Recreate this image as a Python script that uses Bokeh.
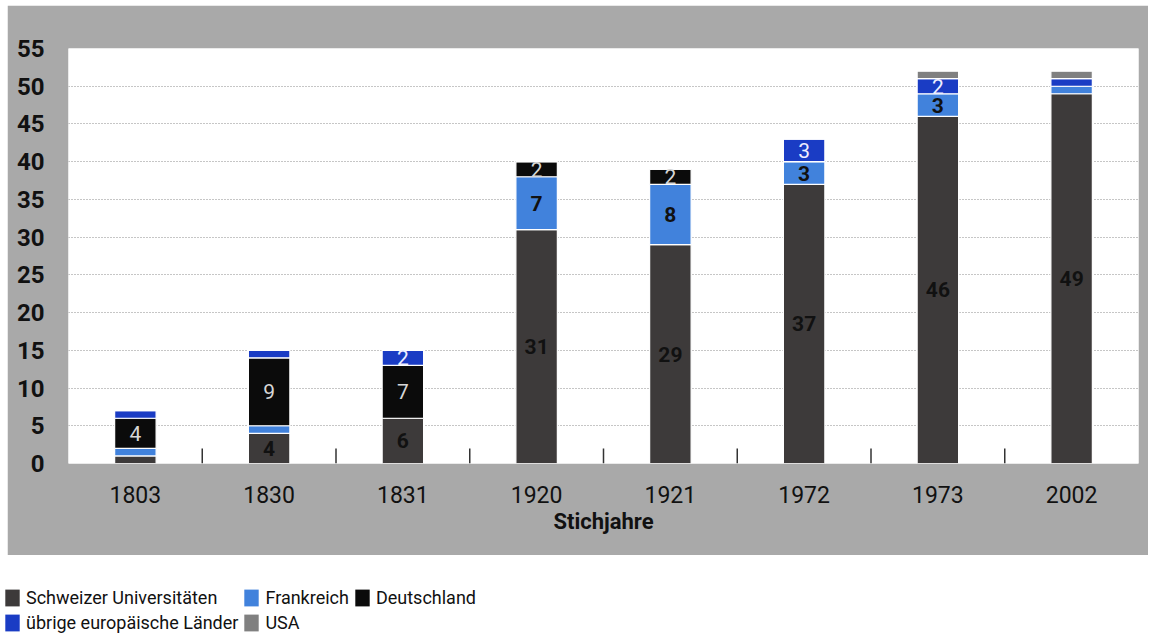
from bokeh.plotting import figure
from bokeh.models import ColumnDataSource, FactorRange, Range1d, FixedTicker, Legend, LegendItem
from bokeh.layouts import column
from bokeh.core.properties import value
from bokeh.embed import file_html
from bokeh.resources import INLINE

# ---- data ----
years = ["1803", "1830", "1831", "1920", "1921", "1972", "1973", "2002"]
schweiz = [1, 4, 6, 31, 29, 37, 46, 49]
frankreich = [1, 1, 0, 7, 8, 3, 3, 1]
deutschland = [4, 9, 7, 2, 2, 0, 0, 0]
uebrige = [1, 1, 2, 0, 0, 3, 2, 1]
usa = [0, 0, 0, 0, 0, 0, 1, 1]
series_names = ["Schweizer Universitäten", "Frankreich", "Deutschland",
                "übrige europäische Länder", "USA"]
y_ticks = [0, 5, 10, 15, 20, 25, 30, 35, 40, 45, 50, 55]

# ---- styles ----
colors = ["#3d3a3a", "#4182dc", "#0b0b0b", "#1a3cc4", "#808080"]
label_colors = ["#111111", "#111111", "#d6d6d6", "#eeeeff", "#ffffff"]
label_styles = ["bold", "bold", "normal", "normal", "normal"]
FONT = "Roboto"
PANEL = "#a9a9a9"

keys = ["ch", "fr", "de", "eu", "us"]
series = [schweiz, frankreich, deutschland, uebrige, usa]
src = ColumnDataSource(data=dict(year=years, **{k: v for k, v in zip(keys, series)}))

p = figure(width=1141, height=550, x_range=FactorRange(factors=years), y_range=Range1d(0, 55),
           output_backend="svg", toolbar_location=None,
           min_border_left=61, min_border_right=10, min_border_top=43, min_border_bottom=92)
p.margin = (5, 0, 0, 7)
p.border_fill_color = PANEL
p.background_fill_color = "white"
p.outline_line_color = None

# category boundary tick marks (inside the plot)
bounds = list(range(1, len(years)))
p.segment(x0=bounds, x1=bounds, y0=[0] * len(bounds), y1=[2] * len(bounds),
          line_color="#333333", line_width=1.5)

p.vbar_stack(keys, x="year", width=0.31, fill_color=colors, line_color="white",
             line_width=1.2, source=src)

# value labels (segments of 2 or more)
lx, ly, lt, lc, ls = [], [], [], [], []
for i, yr in enumerate(years):
    base = 0
    for s, vals in enumerate(series):
        v = vals[i]
        if v >= 2:
            lx.append(yr); ly.append(base + v / 2); lt.append(str(v))
            lc.append(label_colors[s]); ls.append(label_styles[s])
        base += v
lab = ColumnDataSource(data=dict(x=lx, y=ly, t=lt, c=lc, s=ls))
p.text(x="x", y="y", text="t", text_color="c", text_font_style="s", source=lab,
       text_font=value(FONT), text_font_size="21px", text_align="center",
       text_baseline="middle")

# axes
p.yaxis.ticker = FixedTicker(ticks=y_ticks)
p.ygrid.ticker = FixedTicker(ticks=y_ticks[1:-1])
p.ygrid.grid_line_color = "#8c8c8c"
p.ygrid.grid_line_dash = "1 2"
p.ygrid.grid_line_width = 1
p.xgrid.visible = False
for ax in (p.xaxis, p.yaxis):
    ax.axis_line_color = None
    ax.major_tick_line_color = None
    ax.minor_tick_line_color = None
    ax.major_label_text_font = FONT
    ax.major_label_text_color = "#111111"
p.yaxis.major_label_text_font_size = "24px"
p.yaxis.major_label_text_font_style = "bold"
p.yaxis.major_label_standoff = 18
p.xaxis.major_label_text_font_size = "23px"
p.xaxis.major_label_standoff = 16
p.xaxis.axis_label = "Stichjahre"
p.xaxis.axis_label_text_font = FONT
p.xaxis.axis_label_text_font_size = "22px"
p.xaxis.axis_label_text_font_style = "bold"
p.xaxis.axis_label_text_color = "#111111"
p.xaxis.axis_label_standoff = 3

# legend panel: same series drawn far outside its visible y range
p2 = figure(width=1148, height=84, x_range=FactorRange(factors=years), y_range=Range1d(1000, 1001),
            output_backend="svg", toolbar_location=None, min_border=0,
            min_border_left=0, min_border_right=0, min_border_top=0, min_border_bottom=0,
            x_axis_location=None, y_axis_location=None)
p2.frame_align = False
p2.grid.visible = False
p2.outline_line_color = None
p2.background_fill_color = "white"
p2.border_fill_color = "white"
rs = p2.vbar_stack(keys, x="year", width=0.31, fill_color=colors, line_color=None, source=src)
items = [LegendItem(label=name, renderers=[r]) for name, r in zip(series_names, rs)]
leg = Legend(items=items, location=(3, 6), orientation="horizontal", ncols=3,
             glyph_width=18, glyph_height=21, label_height=18, label_standoff=5,
             spacing=4, padding=0, margin=0, border_line_color=None,
             background_fill_alpha=0, label_text_font=FONT,
             label_text_font_size="18px", label_text_color="#111111")
p2.add_layout(leg)

layout = column(p, p2, spacing=0)
open("out.html", "w").write(file_html(layout, INLINE))
